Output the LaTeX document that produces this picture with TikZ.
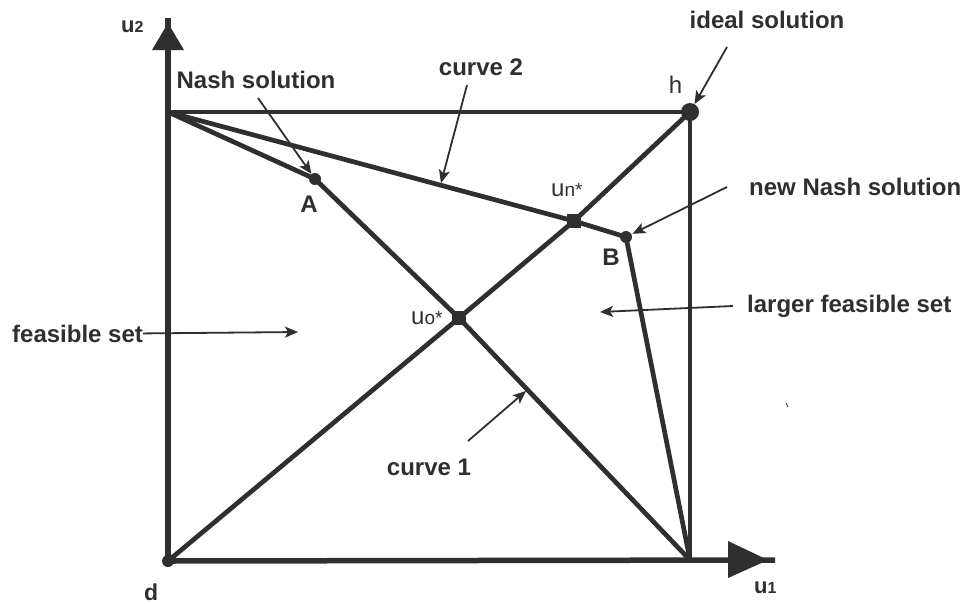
\documentclass[tikz,border=0pt]{standalone}
\usepackage{fontspec}
\setmainfont{Liberation Sans}
\usetikzlibrary{arrows.meta}
\definecolor{ink}{RGB}{48,46,47}
\begin{document}
\begin{tikzpicture}[x=1pt,y=-1pt,
  lbl/.style={font=\bfseries\fontsize{24}{28}\selectfont, text=ink, inner sep=0pt},
  small/.style={text=ink, inner sep=0pt},
  mainline/.style={draw=ink, line width=4.7pt, line join=round},
  axisline/.style={draw=ink, line width=5.5pt},
  pointer/.style={draw=ink, line width=1.8pt, -{Stealth[length=13pt,width=11pt,inset=3pt]}},
  dot/.style={circle, fill=ink, inner sep=0pt, minimum size=12pt},
  bigdot/.style={circle, fill=ink, inner sep=0pt, minimum size=18pt},
  sq/.style={rectangle, fill=ink, inner sep=0pt, minimum size=14pt},
]
\useasboundingbox (0,0) rectangle (963,603);

% key points
\coordinate (d) at (168,561);
\coordinate (tl) at (168,112);
\coordinate (br) at (690,560);
\coordinate (u2end) at (168,18);
\coordinate (u1end) at (775,560);

% axes
\draw[axisline] (d) -- (u2end);
\draw[axisline] (d) -- (u1end);
\fill[ink] (152,50) -- (168,23) -- (184,50) -- cycle;
\fill[ink] (728,541) -- (768,560) -- (728,578) -- cycle;

% coordinates of the marked points
\coordinate (hc) at (690,112);
\coordinate (Ac) at (315,179);
\coordinate (Bc) at (626,237);
\coordinate (uoc) at (459,318);
\coordinate (unc) at (574,221);

% main lines
\draw[mainline] (tl) -- (hc) -- (br);
\draw[mainline] (d) -- (uoc) -- (unc) -- (hc);
\draw[mainline] (tl) -- (Ac) -- (uoc) -- (br);
\draw[mainline] (tl) -- (unc) -- (Bc) -- (br);

% markers
\node[dot] (dd) at (d) {};
\node[bigdot] (h) at (hc) {};
\node[dot] (A) at (Ac) {};
\node[dot] (B) at (Bc) {};
\node[sq] (uo) at (uoc) {};
\node[sq] (un) at (unc) {};

% labels
\node[small, anchor=base west, font=\bfseries] (u2lbl) at (121,32) {\fontsize{22}{24}\selectfont u\fontsize{16}{18}\selectfont 2};
\node[small, anchor=base west, font=\bfseries] (u1lbl) at (754,593) {\fontsize{22}{24}\selectfont u\fontsize{16}{18}\selectfont 1};
\node[small, anchor=base west, font=\bfseries\fontsize{23}{26}\selectfont] (dlbl) at (144,600) {d};
\node[small, anchor=base, font=\fontsize{24}{28}\selectfont] (hlbl) at (675.5,93) {h};
\node[small, anchor=base west] (uolbl) at (411,324) {\fontsize{24}{26}\selectfont u\fontsize{19}{21}\selectfont o*};
\node[small, anchor=base west] (unlbl) at (551,196) {\fontsize{24}{26}\selectfont u\fontsize{19}{21}\selectfont n*};
\node[lbl, anchor=base] (Albl) at (309,212) {A};
\node[lbl, anchor=base] (Blbl) at (611,265) {B};

\node[lbl, anchor=base] (nashlbl) at (256,88) {Nash solution};
\node[lbl, anchor=base] (c2lbl) at (481,75) {curve 2};
\node[lbl, anchor=base] (ideallbl) at (767,28) {ideal solution};
\node[lbl, anchor=base west] (newnashlbl) at (749,195) {new Nash solution};
\node[lbl, anchor=base west] (largerlbl) at (747,312) {larger feasible set};
\node[lbl, anchor=base west] (feaslbl) at (12,342) {feasible set};
\node[lbl, anchor=base] (c1lbl) at (429,475) {curve 1};

% pointer ends
\coordinate (nashS) at (258,98);
\coordinate (c2S) at (467,85);
\coordinate (c2T) at (441,183);
\coordinate (idealS) at (727,47);
\coordinate (newnashS) at (727,187);
\coordinate (largerS) at (733,306);
\coordinate (largerT) at (600,312);
\coordinate (feasT) at (298,332);
\coordinate (c1S) at (468,441);
\coordinate (c1T) at (526,391);

% pointers
\draw[pointer] (nashS) -- (A);
\draw[pointer] (c2S) -- (c2T);
\draw[pointer] (idealS) -- (h);
\draw[pointer, shorten >=1pt] (newnashS) -- (B);
\draw[pointer] (largerS) -- (largerT);
\draw[pointer] (feaslbl.east) -- (feasT);
\draw[pointer] (c1S) -- (c1T);

% stray mark
\draw[ink, line width=0.8pt] (786,403) -- (788,407);
\end{tikzpicture}
\end{document}
